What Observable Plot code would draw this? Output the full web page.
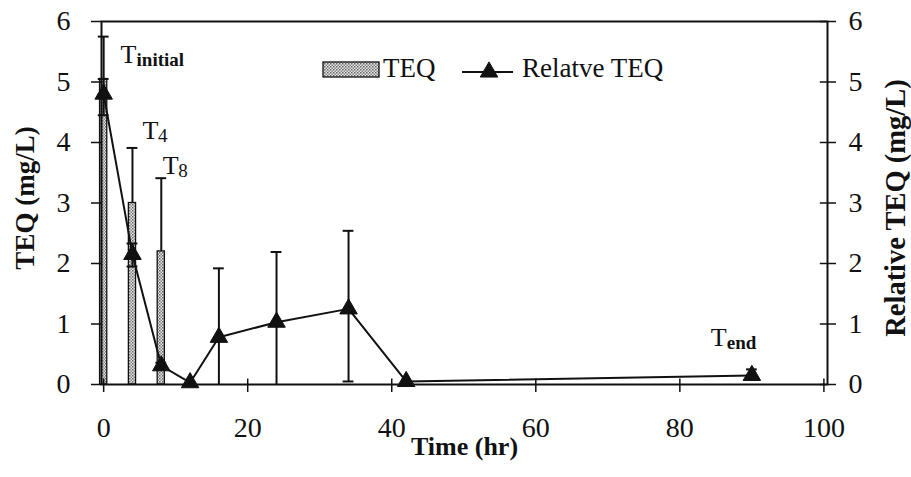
<!DOCTYPE html>
<html><head><meta charset="utf-8">
<script src="https://cdn.jsdelivr.net/npm/d3@7"></script>
<script src="https://cdn.jsdelivr.net/npm/@observablehq/plot@0.6"></script>
<style>
body{margin:0;background:#fff;}
#wrap{position:relative;width:911px;height:477px;}
#legend{position:absolute;left:0;top:0;pointer-events:none;}
</style></head><body><div id="wrap"></div>
<script>
// ---- data ----
const barTime = [0, 4, 8];
const barTEQ = [5.05, 3.0, 2.2];
const barHigh = [5.75, 3.91, 3.41];

const relTime = [0, 4, 8, 12, 16, 24, 34, 42, 90];
const relTEQ  = [4.8, 2.15, 0.31, 0.03, 0.78, 1.03, 1.25, 0.05, 0.15];
const relLow  = [4.45, 1.95, 0.25, 0.03, 0, 0, 0.05, 0.05, 0.1];
const relHigh = [5.05, 2.33, 0.36, 0.03, 1.92, 2.19, 2.54, 0.05, 0.25];

const xTicks = [0, 20, 40, 60, 80, 100];
const yTicks = [0, 1, 2, 3, 4, 5, 6];

const labelMain = ["T", "T", "T", "T"];
const labelSub  = ["initial", "4", "8", "end"];
const labelSubBold = [true, false, false, true];
const labelX = [2.35, 5.4, 8.2, 84.3];
const labelY = [5.32, 4.05, 3.48, 0.63];

const legendNames = ["TEQ", "Relatve TEQ"];
const xTitle = "Time (hr)";
const yTitleLeft = "TEQ (mg/L)";
const yTitleRight = "Relative TEQ (mg/L)";

// ---- derived tables ----
const bars = barTime.map((t, i) => ({t, teq: barTEQ[i], high: barHigh[i]}));
const rel = relTime.map((t, i) => ({t, v: relTEQ[i], lo: relLow[i], hi: relHigh[i]}));
const relErr = rel.filter(d => d.hi - d.lo > 0.001);
const labels = labelMain.map((m, i) => ({m, s: labelSub[i], b: labelSubBold[i], x: labelX[i], y: labelY[i]}));

const FONT = "Liberation Serif, Times New Roman, serif";
const INK = "#111";
const fmt = d => String(d);

const plot = Plot.plot({
  width: 911, height: 477,
  marginLeft: 101, marginRight: 84, marginTop: 21, marginBottom: 93,
  style: {fontFamily: FONT, color: INK, background: "#fff"},
  x: {domain: [-0.3, 100.5]},
  y: {domain: [0, 6]},
  marks: [
    // bars (TEQ)
    Plot.rectY(bars, {x1: d => d.t - 0.5, x2: d => d.t + 0.5, y: "teq", fill: "url(#stipple)", stroke: INK, strokeWidth: 1.3}),
    Plot.ruleX(bars, {x: "t", y1: "teq", y2: "high", stroke: INK, strokeWidth: 2}),
    Plot.ruleY(bars, {y: "high", x1: d => d.t - 0.75, x2: d => d.t + 0.75, stroke: INK, strokeWidth: 2}),
    // relative TEQ error bars
    Plot.ruleX(relErr, {x: "t", y1: "lo", y2: "hi", stroke: INK, strokeWidth: 2}),
    Plot.ruleY(relErr, {y: "hi", x1: d => d.t - 0.75, x2: d => d.t + 0.75, stroke: INK, strokeWidth: 2}),
    Plot.ruleY(relErr.filter(d => d.lo > 0.02), {y: "lo", x1: d => d.t - 0.75, x2: d => d.t + 0.75, stroke: INK, strokeWidth: 2}),
    // line + triangles
    Plot.line(rel, {x: "t", y: "v", stroke: INK, strokeWidth: 2}),
    Plot.dot(rel, {x: "t", y: "v", symbol: "triangle", r: 6.5, fill: INK, stroke: INK, strokeWidth: 1}),
    // annotations
    Plot.text(labels, {x: "x", y: "y", text: "m", textAnchor: "start", lineAnchor: "bottom", fontSize: 26, fill: INK}),
    Plot.text(labels.filter(d => d.b), {x: "x", y: "y", text: "s", textAnchor: "start", lineAnchor: "bottom", fontSize: 19, fontWeight: "bold", dx: 16, dy: 3, fill: INK}),
    Plot.text(labels.filter(d => !d.b), {x: "x", y: "y", text: "s", textAnchor: "start", lineAnchor: "bottom", fontSize: 19, dx: 15.5, dy: 3, fill: INK}),
    // frame + axes
    Plot.frame({stroke: INK, strokeWidth: 2}),
    Plot.axisX({ticks: xTicks, tickFormat: fmt, tickSize: 8, tickPadding: 25, fontSize: 28, label: null, strokeWidth: 1.5}),
    Plot.ruleX(xTicks, {x: d => d, y1: 0, y2: 0.09, stroke: INK, strokeWidth: 1.5}),
    Plot.axisY({anchor: "left", ticks: yTicks, tickFormat: fmt, tickSize: 10, tickPadding: 21, fontSize: 28, label: null, strokeWidth: 1.5}),
    Plot.axisY({anchor: "right", ticks: yTicks, tickFormat: fmt, tickSize: 8, tickPadding: 13, fontSize: 28, label: null, strokeWidth: 1.5}),
    Plot.ruleY(yTicks, {y: d => d, x1: 99.5, x2: 100.5, stroke: INK, strokeWidth: 1.5}),
    // axis titles
    Plot.text([xTitle], {frameAnchor: "bottom", textAnchor: "middle", dy: 70, fontSize: 26, fontWeight: "bold", fill: INK}),
    Plot.text([yTitleLeft], {frameAnchor: "left", textAnchor: "middle", rotate: -90, dx: -76, dy: -5, fontSize: 27, fontWeight: "bold", fill: INK}),
    Plot.text([yTitleRight], {frameAnchor: "right", textAnchor: "middle", rotate: -90, dx: 68, dy: 5, fontSize: 28.5, fontWeight: "bold", fill: INK})
  ]
});

function addStipple(svgEl, id) {
  const defs = d3.select(svgEl).insert("defs", ":first-child");
  const p = defs.append("pattern").attr("id", id).attr("patternUnits", "userSpaceOnUse").attr("width", 3).attr("height", 3);
  p.append("rect").attr("width", 3).attr("height", 3).attr("fill", "#e4e4e4");
  p.append("rect").attr("x", 0).attr("y", 0).attr("width", 1.5).attr("height", 1.5).attr("fill", "#666");
  p.append("rect").attr("x", 1.5).attr("y", 1.5).attr("width", 1.5).attr("height", 1.5).attr("fill", "#888");
}
addStipple(plot, "stipple");

const wrap = document.getElementById("wrap");
wrap.appendChild(plot);

// legend overlay (inside plot area, as in the reference)
const leg = d3.select(wrap).append("svg").attr("id", "legend").attr("width", 911).attr("height", 477);
addStipple(leg.node(), "stipple2");
leg.append("rect").attr("x", 323).attr("y", 62).attr("width", 56).attr("height", 15)
  .attr("fill", "url(#stipple2)").attr("stroke", INK).attr("stroke-width", 1.3);
leg.append("text").attr("x", 383).attr("y", 77).text(legendNames[0])
  .attr("font-family", FONT).attr("font-size", 27).attr("fill", INK);
leg.append("line").attr("x1", 462).attr("x2", 513).attr("y1", 72).attr("y2", 72).attr("stroke", INK).attr("stroke-width", 2);
leg.append("path").attr("transform", "translate(489,72)").attr("d", d3.symbol(d3.symbolTriangle, Math.PI * 6.5 * 6.5)())
  .attr("fill", INK).attr("stroke", INK);
leg.append("text").attr("x", 522).attr("y", 77).text(legendNames[1])
  .attr("font-family", FONT).attr("font-size", 27).attr("fill", INK);
</script>
</body></html>
